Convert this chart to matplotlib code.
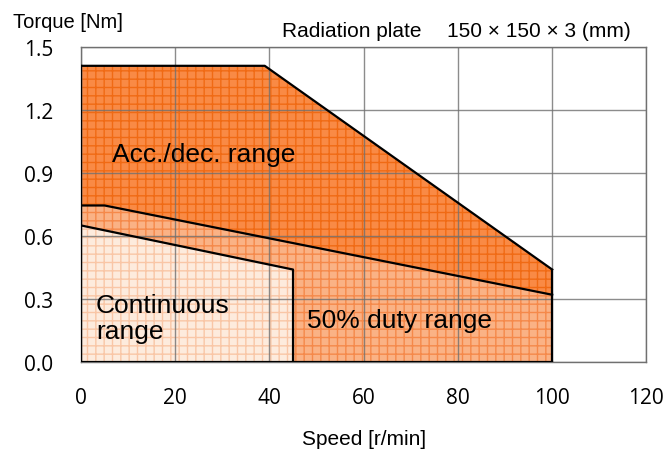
import numpy as np
import matplotlib
matplotlib.use("Agg")
import matplotlib.pyplot as plt

# torque-speed characteristic
acc_x = [0, 39, 100, 100, 0]
acc_y = [1.41, 1.41, 0.44, 0.0, 0.0]

duty_x = [0, 5, 100, 100, 0]
duty_y = [0.745, 0.745, 0.32, 0.0, 0.0]

cont_x = [0, 45, 45, 0]
cont_y = [0.65, 0.44, 0.0, 0.0]

x_ticks = [0, 20, 40, 60, 80, 100, 120]
y_ticks = [0.0, 0.3, 0.6, 0.9, 1.2, 1.5]

plt.rcParams['font.family'] = ['Liberation Sans', 'DejaVu Sans']
plt.rcParams['hatch.linewidth'] = 1.0

fig = plt.figure(figsize=(6.66, 4.52), dpi=100)
ax = fig.add_axes([0.1216, 0.197, 0.849, 0.697])

# filled regions, hatched to mimic the dotted texture
ax.fill(acc_x, acc_y, facecolor='#F98A45', edgecolor='#F06A14', hatch='++', linewidth=0, zorder=1)
ax.fill(duty_x, duty_y, facecolor='#FAB285', edgecolor='#F5894A', hatch='++', linewidth=0, zorder=2)
ax.fill(cont_x, cont_y, facecolor='#FDEBDD', edgecolor='#F9C6A6', hatch='++', linewidth=0, zorder=3)

# grid over the fills
for xv in x_ticks:
    ax.axvline(xv, color='#707070', lw=1.0, alpha=0.8, zorder=4)
for yv in y_ticks:
    ax.axhline(yv, color='#707070', lw=1.0, alpha=0.8, zorder=4)

# outlines
ax.plot(acc_x[:3], acc_y[:3], color='black', lw=1.6, zorder=5)
ax.plot([acc_x[2], acc_x[3]], [acc_y[2], acc_y[3]], color='black', lw=1.6, zorder=5)
ax.plot(duty_x[:3], duty_y[:3], color='black', lw=1.6, zorder=5)
ax.plot(cont_x[:3], cont_y[:3], color='black', lw=1.6, zorder=5)
ax.plot([0, 0], [0, acc_y[0]], color='black', lw=1.6, zorder=5)
ax.plot([0, 100], [0, 0], color='black', lw=1.6, zorder=5)

ax.set_xlim(0, 120)
ax.set_ylim(0, 1.5)
ax.set_xticks(x_ticks)
ax.set_yticks(y_ticks)
ax.set_yticklabels([f"{v:.1f}" for v in y_ticks])
for lab in ax.get_xticklabels() + ax.get_yticklabels():
    lab.set_family(['Open Sans', 'DejaVu Sans'])
ax.tick_params(length=0, labelsize=15, pad=18)
ax.tick_params(axis='y', pad=20)
for s in ax.spines.values():
    s.set_color('#707070')
    s.set_linewidth(1.0)
    s.set_zorder(4)

ax.text(6.5, 0.99, "Acc./dec. range", fontsize=19, va='center', ha='left', zorder=6)
ax.text(3.2, 0.21, "Continuous\nrange", fontsize=19, va='center', ha='left',
        linespacing=1.12, zorder=6)
ax.text(48, 0.2, "50% duty range", fontsize=19, va='center', ha='left', zorder=6)

fig.text(0.019, 0.95, "Torque [Nm]", fontsize=14.5, va='center', ha='left')
fig.text(0.423, 0.93, "Radiation plate", fontsize=15, va='center', ha='left')
fig.text(0.671, 0.93, "150 \u00d7 150 \u00d7 3 (mm)", fontsize=15, va='center', ha='left')
fig.text(0.546, 0.027, "Speed [r/min]", fontsize=15, va='center', ha='center')

fig.savefig("out.png", dpi=100)
